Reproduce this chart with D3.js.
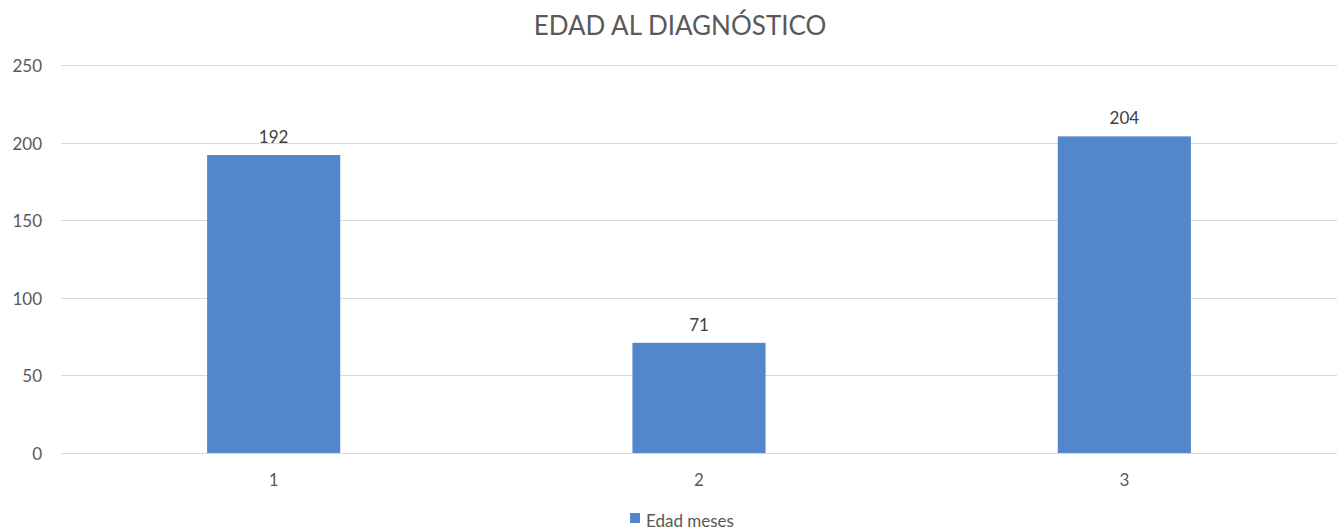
<!DOCTYPE html>
<html>
<head>
<meta charset="utf-8">
<script src="https://cdn.jsdelivr.net/npm/d3@7"></script>
<style>
  body { margin: 0; background: #fff; }
  text { font-family: Lato, "Open Sans", sans-serif; fill: #595959; }
</style>
</head>
<body>
<svg></svg>
<script>
const WIDTH = 1343, HEIGHT = 531;
const MARGIN = { top: 65, right: 6, bottom: 78, left: 61 };

const categories = ["1", "2", "3"];
const values = [192, 71, 204];
const yTicks = [0, 50, 100, 150, 200, 250];
const seriesName = "Edad meses";
const title = "EDAD AL DIAGNÓSTICO";
const BAR_COLOR = "#5287cb";

const svg = d3.select("svg")
    .attr("width", WIDTH)
    .attr("height", HEIGHT);

const x = d3.scaleBand()
    .domain(categories)
    .range([MARGIN.left, WIDTH - MARGIN.right])
    .paddingInner(0.687)
    .paddingOuter(0.3435);

const y = d3.scaleLinear()
    .domain([0, 250])
    .range([HEIGHT - MARGIN.bottom, MARGIN.top]);

// gridlines
svg.append("g")
    .selectAll("line").data(yTicks).enter().append("line")
    .attr("x1", MARGIN.left)
    .attr("x2", WIDTH - MARGIN.right)
    .attr("y1", d => Math.round(y(d)) + 0.5)
    .attr("y2", d => Math.round(y(d)) + 0.5)
    .attr("stroke", "#d9d9d9")
    .attr("stroke-width", 1);

// y labels
svg.append("g")
    .selectAll("text").data(yTicks).enter().append("text")
    .attr("x", 42)
    .attr("y", d => y(d) + 7)
    .attr("text-anchor", "end")
    .style("font-size", "17px")
    .text(d => d);

// bars
const data = categories.map((c, i) => ({ cat: c, value: values[i] }));
svg.append("g")
    .selectAll("rect").data(data).enter().append("rect")
    .attr("x", d => x(d.cat))
    .attr("width", x.bandwidth())
    .attr("y", d => y(d.value))
    .attr("height", d => y(0) - y(d.value))
    .attr("fill", BAR_COLOR);

// data labels
svg.append("g")
    .selectAll("text").data(data).enter().append("text")
    .attr("x", d => x(d.cat) + x.bandwidth() / 2)
    .attr("y", d => y(d.value) - 12)
    .attr("text-anchor", "middle")
    .style("font-size", "17px")
    .style("fill", "#404040")
    .text(d => d.value);

// x labels
svg.append("g")
    .selectAll("text").data(categories).enter().append("text")
    .attr("x", d => x(d) + x.bandwidth() / 2)
    .attr("y", y(0) + 33)
    .attr("text-anchor", "middle")
    .style("font-size", "17px")
    .text(d => d);

// title
svg.append("text")
    .attr("x", 680)
    .attr("y", 35)
    .attr("text-anchor", "middle")
    .style("font-size", "26px")
    .text(title);

// legend
const legend = svg.append("g");
legend.append("rect")
    .attr("x", 630).attr("y", 513)
    .attr("width", 10).attr("height", 10)
    .attr("fill", BAR_COLOR);
legend.append("text")
    .attr("x", 646).attr("y", 527)
    .style("font-size", "17px")
    .text(seriesName);
</script>
</body>
</html>
